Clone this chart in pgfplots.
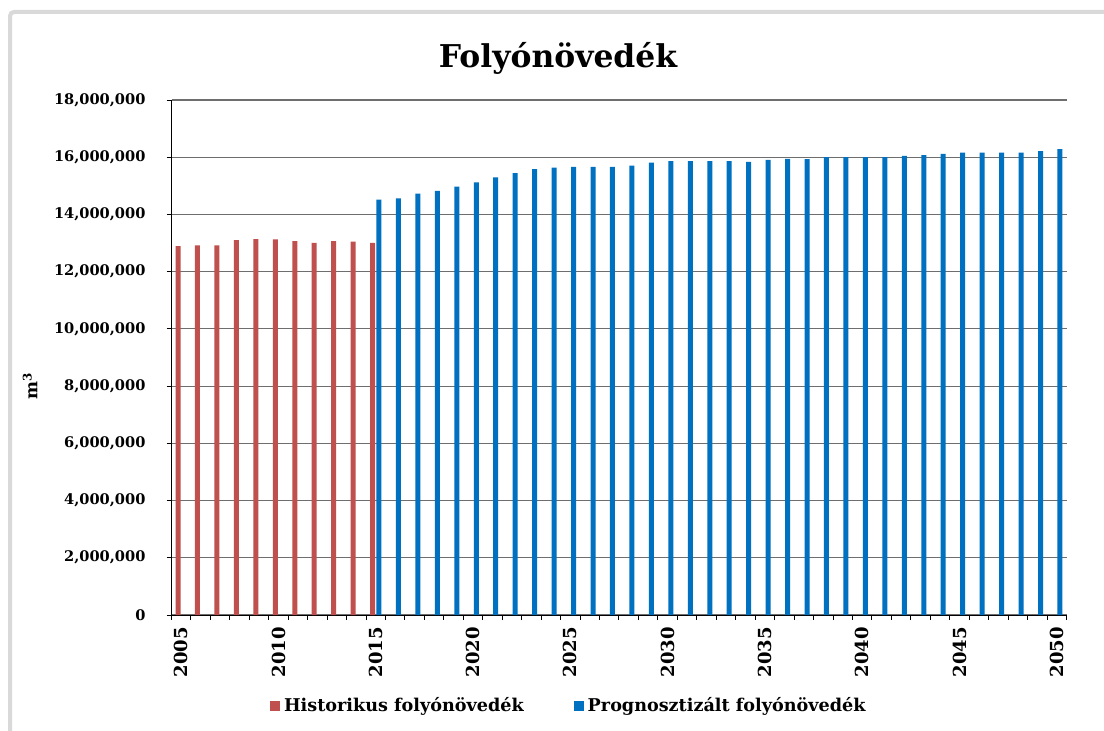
\documentclass[border=0pt]{standalone}
\usepackage{pgfplots}
\pgfplotsset{compat=1.18}
\usepackage{pgfplotstable}
\usepackage{fontspec}
\setmainfont{DejaVu Serif}
\definecolor{histred}{RGB}{192,80,77}
\definecolor{progblue}{RGB}{0,112,192}
\definecolor{gridgray}{RGB}{110,110,110}
\definecolor{framegray}{RGB}{217,217,217}
\pgfplotstableread{
year value
2005 12890000
2006 12920000
2007 12920000
2008 13100000
2009 13140000
2010 13130000
2011 13070000
2012 13010000
2013 13070000
2014 13050000
2015 13010000
}\histdata
\pgfplotstableread{
year value
2015 14520000
2016 14565000
2017 14725000
2018 14820000
2019 14970000
2020 15120000
2021 15300000
2022 15440000
2023 15580000
2024 15640000
2025 15660000
2026 15660000
2027 15660000
2028 15710000
2029 15810000
2030 15860000
2031 15860000
2032 15860000
2033 15860000
2034 15840000
2035 15910000
2036 15940000
2037 15930000
2038 16000000
2039 16000000
2040 16000000
2041 16000000
2042 16050000
2043 16070000
2044 16120000
2045 16165000
2046 16165000
2047 16165000
2048 16165000
2049 16210000
2050 16280000
}\progdata
\begin{document}
\begin{tikzpicture}
\useasboundingbox (0,0) rectangle (552pt,365pt);
\fill[white] (0,0) rectangle (552pt,365pt);
\draw[framegray, line width=2pt, rounded corners=2pt] (5pt,-2pt) -- (5pt,359pt) -- (560pt,359pt);
\node[font=\bfseries\fontsize{15.7}{18}\selectfont] at (279pt,336pt) {Folyónövedék};
\begin{axis}[
  at={(85.75pt,57.5pt)}, anchor=south west,
  scale only axis, width=447.5pt, height=257.5pt,
  ybar=0.7pt, bar width=2.5pt,
  xmin=2004.5, xmax=2050.5, ymin=0, ymax=18000000,
  axis x line=bottom, axis y line=left,
  axis line style={-, black, line width=0.5pt},
  tick align=outside,
  xtick={2005,2010,...,2050},
  xticklabels={2005,2010,2015,2020,2025,2030,2035,2040,2045,2050},
  major x tick style={draw=none},
  minor xtick={2004.5,2005.5,...,2050.5},
  minor x tick style={black, line width=0.5pt},
  minor tick length=2.5pt,
  major tick length=2.5pt,
  ytick={0,2000000,...,18000000},
  ymajorgrids,
  grid style={gridgray, line width=0.6pt},
  y tick style={black, line width=0.5pt},
  scaled y ticks=false,
  /pgf/number format/.cd, fixed, 1000 sep={,}, assume math mode=true,
  /pgfplots/.cd,
  yticklabel style={font=\bfseries\fontsize{7.3}{9}\selectfont, xshift=-7pt},
  xticklabel style={rotate=90, anchor=east, font=\bfseries\fontsize{9}{10}\selectfont},
  ylabel={m\textsuperscript{3}},
  ylabel style={at={(rel axis cs:-0.158,0.445)}, anchor=center, font=\bfseries\fontsize{8.5}{10}\selectfont},
  legend style={at={(rel axis cs:0.445,-0.1767)}, anchor=center, draw=none, fill=none,
    legend columns=2, font=\bfseries\fontsize{8.8}{10}\selectfont,
    /tikz/every even column/.append style={column sep=23pt}},
  legend image code/.code={\fill[#1] (0pt,-2.5pt) rectangle (5pt,2.5pt);},
]
\addplot[fill=histred, draw=none] table[x=year, y=value] {\histdata};
\addlegendentry{Historikus folyónövedék}
\addplot[fill=progblue, draw=none] table[x=year, y=value] {\progdata};
\addlegendentry{Prognosztizált folyónövedék}
\end{axis}
\end{tikzpicture}
\end{document}
